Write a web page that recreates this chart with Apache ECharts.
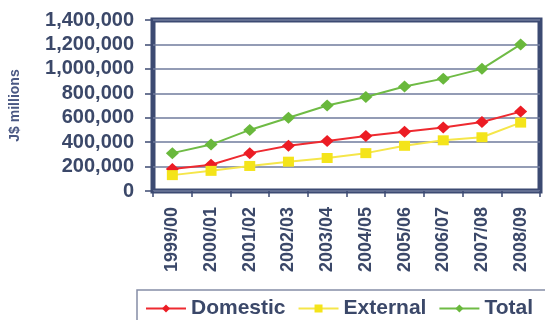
<!DOCTYPE html>
<html>
<head>
<meta charset="utf-8">
<script src="https://cdn.jsdelivr.net/npm/echarts@6/dist/echarts.min.js"></script>
<style>
  html, body { margin: 0; padding: 0; background: #ffffff; }
  #chart { width: 545px; height: 320px; }
</style>
</head>
<body>
<div id="chart"></div>
<script>
// Fiscal years and debt stock (J$ millions)
const years = ['1999/00', '2000/01', '2001/02', '2002/03', '2003/04', '2004/05', '2005/06', '2006/07', '2007/08', '2008/09'];
const domestic = [180000, 215000, 310000, 370000, 410000, 450000, 485000, 520000, 565000, 650000];
const external = [130000, 165000, 205000, 240000, 270000, 310000, 370000, 415000, 440000, 560000];
const total = [310000, 380000, 500000, 600000, 700000, 770000, 855000, 920000, 1000000, 1200000];
const yTicks = [0, 200000, 400000, 600000, 800000, 1000000, 1200000, 1400000];

const navy = '#3c4a72';
const textColor = '#3b4869';
const font = '"Liberation Sans", Arial, sans-serif';

const chart = echarts.init(document.getElementById('chart'), null, { renderer: 'canvas' });

chart.setOption({
  animation: false,
  backgroundColor: '#ffffff',
  grid: {
    left: 150, top: 20, right: 5, bottom: 129,
    show: true,
    borderColor: navy,
    borderWidth: 5,
    backgroundColor: 'transparent'
  },
  graphic: [{
    type: 'rect',
    shape: { x: 137, y: 290, width: 500, height: 60 },
    style: { fill: 'none', stroke: '#858da6', lineWidth: 1.5 },
    z: 0
  }],
  legend: {
    left: 145,
    top: 298,
    padding: 0,
    itemWidth: 40,
    itemHeight: 10,
    itemGap: 12,
    textStyle: { fontFamily: font, fontWeight: 'bold', fontSize: 21, color: textColor },
    data: ['Domestic', 'External', 'Total']
  },
  xAxis: {
    type: 'category',
    data: years,
    boundaryGap: true,
    axisLine: { show: false },
    axisTick: { show: true, length: 6, lineStyle: { color: navy, width: 1.5 } },
    axisLabel: {
      rotate: 90,
      margin: 16,
      fontFamily: font,
      fontWeight: 'bold',
      fontSize: 18,
      color: textColor
    },
    splitLine: { show: false }
  },
  yAxis: {
    type: 'value',
    min: yTicks[0],
    max: yTicks[yTicks.length - 1],
    interval: yTicks[1] - yTicks[0],
    name: 'J$ millions',
    nameLocation: 'middle',
    nameRotate: 90,
    nameGap: 131,
    nameTextStyle: { fontFamily: font, fontWeight: 'bold', fontSize: 14, color: '#4a5883' },
    axisLine: { show: false },
    axisTick: { show: true, length: 8, lineStyle: { color: navy, width: 1.5 } },
    axisLabel: {
      margin: 19,
      fontFamily: font,
      fontWeight: 'bold',
      fontSize: 20,
      color: textColor,
      formatter: v => v.toLocaleString('en-US')
    },
    splitLine: { show: true, lineStyle: { color: '#6f7b9c', width: 1.5 } }
  },
  series: [
    {
      name: 'Domestic',
      type: 'line',
      data: domestic,
      symbol: 'diamond',
      symbolSize: [13, 12],
      color: '#ec1c24',
      lineStyle: { color: '#ee2a30', width: 2 },
      itemStyle: { color: '#ec1c24' }
    },
    {
      name: 'External',
      type: 'line',
      data: external,
      symbol: 'rect',
      symbolSize: [11, 10],
      color: '#f4e41a',
      lineStyle: { color: '#f5e64a', width: 2 },
      itemStyle: { color: '#f4e41a' }
    },
    {
      name: 'Total',
      type: 'line',
      data: total,
      symbol: 'diamond',
      symbolSize: [13, 12],
      color: '#69b83c',
      lineStyle: { color: '#6fbb45', width: 2 },
      itemStyle: { color: '#69b83c' }
    }
  ]
});
</script>
</body>
</html>
